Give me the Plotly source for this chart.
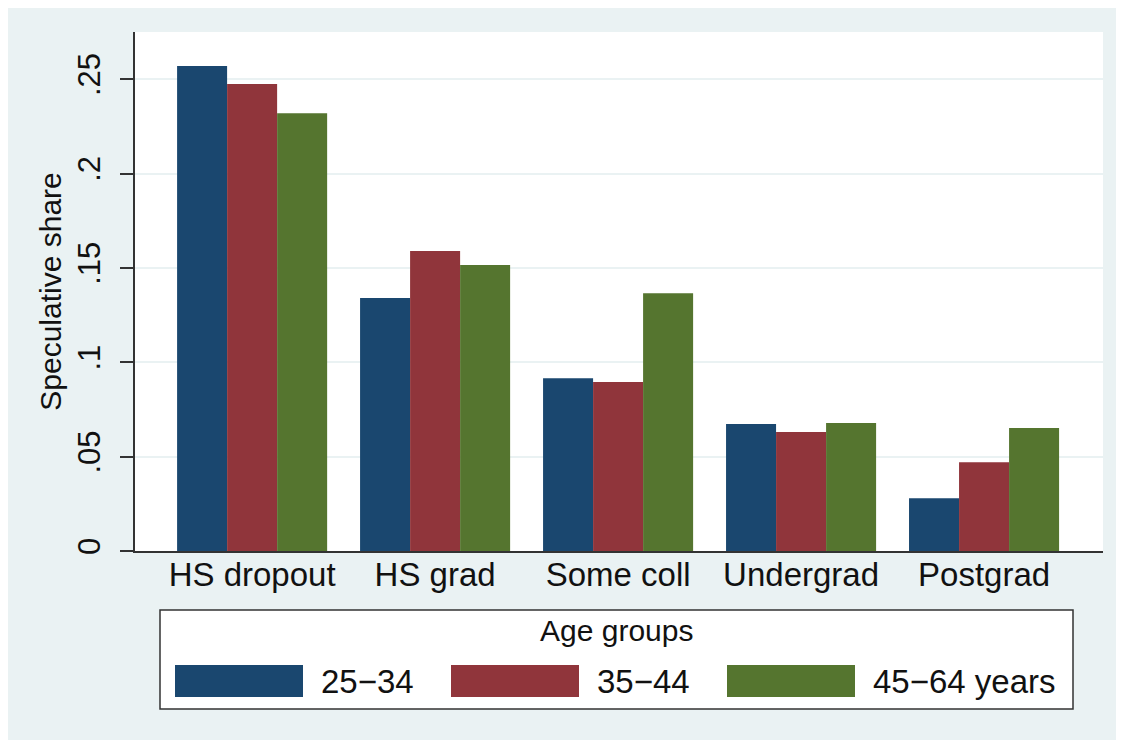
import plotly.graph_objects as go

categories = ["HS dropout", "HS grad", "Some coll", "Undergrad", "Postgrad"]
series_names = ["25\u221234", "35\u221244", "45\u221264 years"]
age_25_34 = [0.257, 0.134, 0.0915, 0.0673, 0.028]
age_35_44 = [0.2475, 0.159, 0.0895, 0.063, 0.047]
age_45_64 = [0.232, 0.1515, 0.1366, 0.0678, 0.0652]
y_ticks = [0, 0.05, 0.1, 0.15, 0.2, 0.25]
y_tick_labels = ["0", ".05", ".1", ".15", ".2", ".25"]
legend_title = "Age groups"
y_title = "Speculative share"

colors = ["#1A476F", "#90353B", "#55752F"]
BG = "#EAF2F3"
FONT = "Liberation Sans, Arial, Helvetica, sans-serif"

OFF = 8  # page body margin
W, H = 1124, 740
L, R, T, B = 135, 1103, 32, 551  # plot area in reference px


def px_x(x):
    return (x - L) / (R - L)


def px_y(y):
    return (B - y) / (B - T)


fig = go.Figure()
for name, vals, c in zip(series_names, [age_25_34, age_35_44, age_45_64], colors):
    fig.add_trace(go.Bar(
        x=categories, y=vals, name=name,
        marker=dict(color=c, line=dict(width=0)),
        showlegend=False,
    ))

shapes = []
shapes.append(dict(type="rect", xref="paper", yref="paper",
                   x0=px_x(6), x1=px_x(1140), y0=px_y(760), y1=px_y(8),
                   fillcolor=BG, line=dict(width=0), layer="below"))
shapes.append(dict(type="rect", xref="paper", yref="paper",
                   x0=0, x1=1, y0=0, y1=1,
                   fillcolor="white", line=dict(width=0), layer="below"))
shapes.append(dict(type="rect", xref="paper", yref="paper",
                   x0=px_x(160), x1=px_x(1073), y0=px_y(709), y1=px_y(610),
                   fillcolor="white", line=dict(color="#333333", width=1.5)))

annotations = [dict(text=legend_title, xref="paper", yref="paper",
                    x=px_x(616), y=px_y(630), xanchor="center", yanchor="middle",
                    showarrow=False, font=dict(family=FONT, size=30, color="#111111"))]

sw_left = [175, 451, 727]
for i, (name, c) in enumerate(zip(series_names, colors)):
    x0 = sw_left[i]
    shapes.append(dict(type="rect", xref="paper", yref="paper",
                       x0=px_x(x0), x1=px_x(x0 + 128), y0=px_y(697), y1=px_y(665),
                       fillcolor=c, line=dict(width=0)))
    annotations.append(dict(text=name, xref="paper", yref="paper",
                            x=px_x(x0 + 144), y=px_y(681), xanchor="left", yanchor="middle",
                            showarrow=False, font=dict(family=FONT, size=33, color="#111111")))

fig.update_layout(
    width=W - OFF, height=H - OFF,
    margin=dict(l=L - OFF, r=W - R, t=T - OFF, b=H - B, pad=0),
    paper_bgcolor="white",
    plot_bgcolor="white",
    barmode="group",
    bargap=0.18,
    bargroupgap=0,
    font=dict(family=FONT, color="#111111"),
    shapes=shapes,
    annotations=annotations,
    xaxis=dict(
        range=[-0.64, 4.65],
        showline=True, linecolor="#333333", linewidth=1.5,
        ticks="", showgrid=False,
        tickfont=dict(family=FONT, size=33, color="#111111"),
        ticklabelstandoff=-6,
    ),
    yaxis=dict(
        range=[0, 0.275],
        tickvals=y_ticks, ticktext=y_tick_labels,
        tickangle=-90,
        ticks="outside", ticklen=13, tickcolor="#333333", tickwidth=1.5,
        showline=True, linecolor="#333333", linewidth=1.5,
        showgrid=True, gridcolor=BG, gridwidth=2,
        zeroline=False,
        tickfont=dict(family=FONT, size=31, color="#111111"),
        ticklabelstandoff=8,
        title=dict(text=y_title, font=dict(family=FONT, size=30, color="#111111"), standoff=1),
    ),
)

fig.write_html("out.html")
